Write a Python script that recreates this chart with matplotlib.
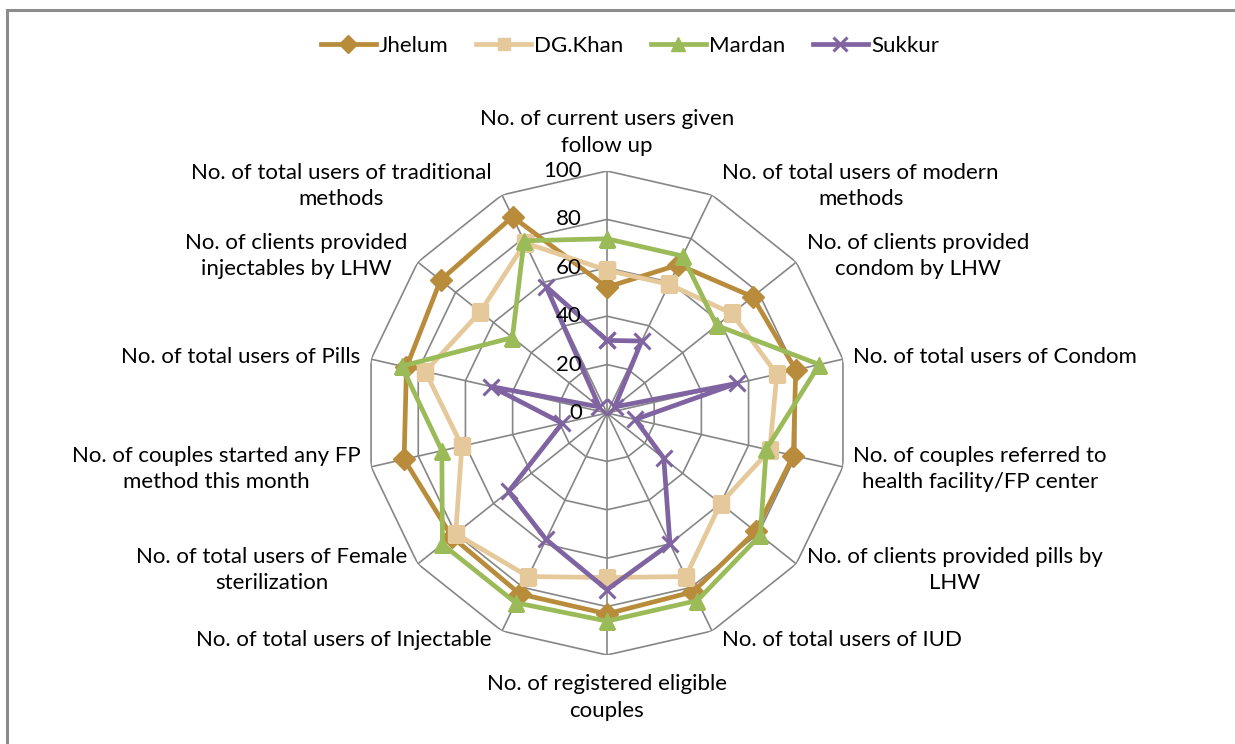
import numpy as np
import matplotlib.pyplot as plt
from matplotlib.patches import Rectangle

plt.rcParams['font.family'] = ['Lato', 'DejaVu Sans']

# data
categories = [
    'No. of current users given\nfollow up',
    'No. of total users of modern\nmethods',
    'No. of clients provided\ncondom by LHW',
    'No. of total users of Condom',
    'No. of couples referred to\nhealth facility/FP center',
    'No. of clients provided pills by\nLHW',
    'No. of total users of IUD',
    'No. of registered eligible\ncouples',
    'No. of total users of Injectable',
    'No. of total users of Female\nsterilization',
    'No. of couples started any FP\nmethod this month',
    'No. of total users of Pills',
    'No. of clients provided\ninjectables by LHW',
    'No. of total users of traditional\nmethods',
]
jhelum = [52, 68, 77, 80, 79, 78.5, 82, 83, 83, 82, 86, 85, 88, 90]
dg_khan = [59, 59, 66, 72, 69, 60, 75, 68, 75, 80, 61.5, 77, 67, 78]
mardan = [72, 72, 58, 90, 67.5, 81, 86, 86, 87, 87, 70, 87, 50, 79]
sukkur = [30, 33, 4, 55, 12, 30, 60, 73, 58, 52, 19, 49, 4, 58]
rticks = [0, 20, 40, 60, 80, 100]

series = [
    ('Jhelum', jhelum, '#B98C3B', 'D', 11),
    ('DG.Khan', dg_khan, '#E5C99A', 's', 11),
    ('Mardan', mardan, '#9BBB59', '^', 12),
    ('Sukkur', sukkur, '#8064A2', 'x', 12),
]

W, H = 1235, 744
fs = 16
fig = plt.figure(figsize=(W / 100, H / 100), dpi=100)
fig.patches.append(Rectangle((7 / W, -0.1), 1.2, 1.1 - 10 / H, transform=fig.transFigure,
                             fill=False, edgecolor='#8c8c8c', linewidth=2.2))

cx, cy, R = 607, 413, 242
ax = fig.add_axes([(cx - R) / W, (H - cy - R) / H, 2 * R / W, 2 * R / H], projection='polar')
ax.set_theta_zero_location('N')
ax.set_theta_direction(-1)
ax.set_ylim(0, 100)
ax.axis('off')

n = len(categories)
angles = np.linspace(0, 2 * np.pi, n, endpoint=False)
closed = np.append(angles, angles[0])

# polygon grid and spokes
for r in rticks[1:]:
    ax.plot(closed, [r] * (n + 1), color='#868686', lw=1.2, zorder=1)
for a in angles:
    ax.plot([a, a], [0, 100], color='#868686', lw=1.2, zorder=1)

for r in rticks:
    ax.annotate(str(r), xy=(0, r), xytext=(-18, 0), textcoords='offset points',
                ha='right', va='center', fontsize=fs, zorder=5)

for name, vals, col, mk, ms in series:
    v = np.append(vals, vals[0])
    ax.plot(closed, v, color=col, lw=3.4, marker=mk, markersize=ms,
            markeredgewidth=2.2 if mk == 'x' else 1, label=name, zorder=3)

for a, lab in zip(angles, categories):
    s, c = np.sin(a), np.cos(a)
    if abs(s) < 1e-6:
        ha = 'center'
        va = 'bottom' if c > 0 else 'top'
        off = (0, 11 if c > 0 else -14)
    else:
        ha = 'left' if s > 0 else 'right'
        va = 'center'
        off = (7.5 if s > 0 else -7.5, 7 * c)
    ax.annotate(lab, xy=(a, 100), xytext=off, textcoords='offset points',
                ha=ha, va=va, multialignment='center', fontsize=fs, linespacing=1.4)

fig.legend(loc='center', bbox_to_anchor=(630 / W, 1 - 46 / H), ncol=4, frameon=False,
           fontsize=fs, handlelength=2.45, columnspacing=1.25, handletextpad=0.15,
           markerscale=0.8)

fig.savefig('out.png', dpi=100, facecolor='white')
